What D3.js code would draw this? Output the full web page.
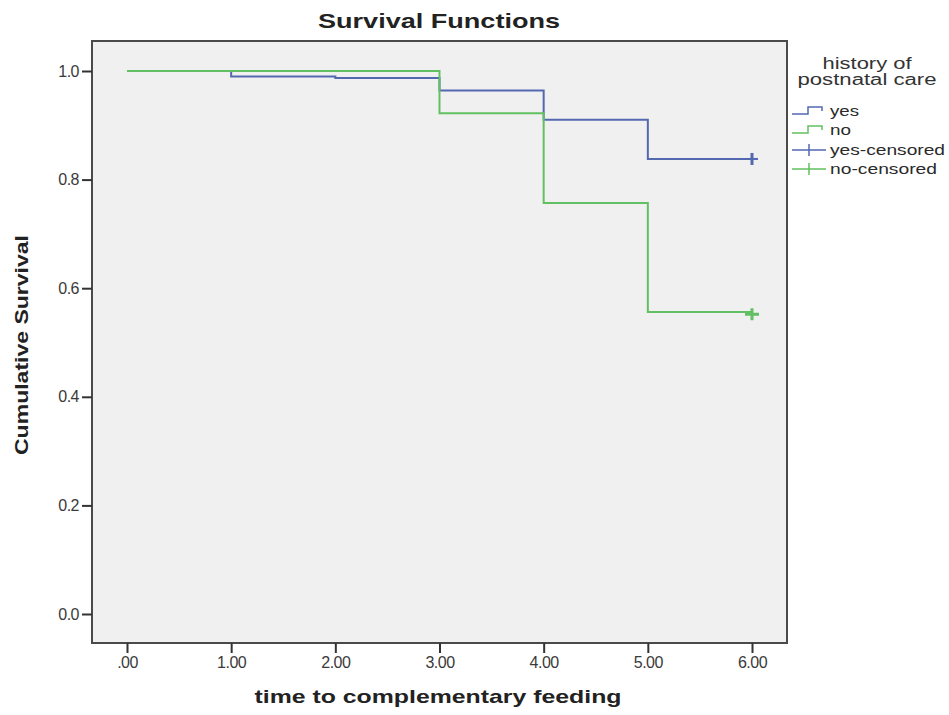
<!DOCTYPE html>
<html>
<head>
<meta charset="utf-8">
<script src="https://cdn.jsdelivr.net/npm/d3@7"></script>
<style>
  html, body { margin: 0; padding: 0; background: #ffffff; }
  svg { display: block; font-family: "Liberation Sans", Arial, sans-serif; }
</style>
</head>
<body>
<svg id="chart" width="949" height="715"></svg>
<script>
// ---- data ----
const yesTimes = [0, 1, 2, 3, 4, 5, 6];
const yesSurv  = [1.0, 0.990, 0.987, 0.964, 0.910, 0.838, 0.838];
const noTimes  = [0, 3, 4, 5, 6];
const noSurv   = [1.0, 0.922, 0.757, 0.556, 0.556];
const censorYes = [{t: 6, s: 0.838}];
const censorNo  = [{t: 6, s: 0.552}];
const xTicks = [0, 1, 2, 3, 4, 5, 6];
const xTickLabels = [".00", "1.00", "2.00", "3.00", "4.00", "5.00", "6.00"];
const yTicks = [0, 0.2, 0.4, 0.6, 0.8, 1.0];
const yTickLabels = ["0.0", "0.2", "0.4", "0.6", "0.8", "1.0"];
const legendTitle = ["history of", "postnatal care"];
const legendItems = ["yes", "no", "yes-censored", "no-censored"];

// ---- style ----
const blue = "#5468b0", green = "#62c062";
const frame = {left: 92, right: 787, top: 41, bottom: 643};

const svg = d3.select("#chart");
const x = d3.scaleLinear().domain([0, 6]).range([127, 752]);
const y = d3.scaleLinear().domain([0, 1]).range([614, 71]);

// plot background
svg.append("rect")
  .attr("x", frame.left).attr("y", frame.top)
  .attr("width", frame.right - frame.left).attr("height", frame.bottom - frame.top)
  .attr("fill", "#f0f0f0").attr("stroke", "#4a4a4a").attr("stroke-width", 2);

// axes
const xAxis = d3.axisBottom(x).tickValues(xTicks)
  .tickFormat((d, i) => xTickLabels[i]).tickSize(10).tickPadding(4).tickSizeOuter(0);
const gx = svg.append("g").attr("transform", `translate(0,${frame.bottom})`).call(xAxis);
gx.select(".domain").remove();
gx.selectAll("line").attr("stroke", "#333").attr("stroke-width", 2);
gx.selectAll("text").attr("fill", "#3a3a3a").attr("font-size", 16)
  .attr("letter-spacing", "-0.5px");

const yAxis = d3.axisLeft(y).tickValues(yTicks)
  .tickFormat((d, i) => yTickLabels[i]).tickSize(10).tickPadding(3).tickSizeOuter(0);
const gy = svg.append("g").attr("transform", `translate(${frame.left},0)`).call(yAxis);
gy.select(".domain").remove();
gy.selectAll("line").attr("stroke", "#333").attr("stroke-width", 2);
gy.selectAll("text").attr("fill", "#3a3a3a").attr("font-size", 16)
  .attr("letter-spacing", "-0.5px");

// survival step lines (green drawn on top, as in the reference)
const line = d3.line().x(d => x(d[0])).y(d => y(d[1])).curve(d3.curveStepAfter);
svg.append("path").datum(d3.zip(yesTimes, yesSurv)).attr("d", line)
  .attr("fill", "none").attr("stroke", blue).attr("stroke-width", 2);
svg.append("path").datum(d3.zip(noTimes, noSurv)).attr("d", line)
  .attr("fill", "none").attr("stroke", green).attr("stroke-width", 2);

// censor marks
svg.selectAll(".cy").data(censorYes).enter().append("line")
  .attr("x1", d => x(d.t)).attr("x2", d => x(d.t))
  .attr("y1", d => y(d.s) - 6).attr("y2", d => y(d.s) + 6)
  .attr("stroke", blue).attr("stroke-width", 3);
svg.selectAll(".cyh").data(censorYes).enter().append("line")
  .attr("x1", d => x(d.t) - 6).attr("x2", d => x(d.t) + 6)
  .attr("y1", d => y(d.s)).attr("y2", d => y(d.s))
  .attr("stroke", blue).attr("stroke-width", 2);
svg.selectAll(".cn").data(censorNo).enter().append("line")
  .attr("x1", d => x(d.t)).attr("x2", d => x(d.t))
  .attr("y1", d => y(d.s) - 6).attr("y2", d => y(d.s) + 6)
  .attr("stroke", green).attr("stroke-width", 3);
svg.selectAll(".cnh").data(censorNo).enter().append("line")
  .attr("x1", d => x(d.t) - 7).attr("x2", d => x(d.t) + 7)
  .attr("y1", d => y(d.s)).attr("y2", d => y(d.s))
  .attr("stroke", green).attr("stroke-width", 3);

// title and axis labels
svg.append("text").attr("x", 439).attr("y", 28).attr("text-anchor", "middle")
  .attr("font-size", 21).attr("font-weight", "bold").attr("fill", "#222")
  .attr("textLength", 242).attr("lengthAdjust", "spacingAndGlyphs")
  .text("Survival Functions");
svg.append("text").attr("x", 438).attr("y", 703).attr("text-anchor", "middle")
  .attr("font-size", 19).attr("font-weight", "bold").attr("fill", "#222")
  .attr("textLength", 367).attr("lengthAdjust", "spacingAndGlyphs")
  .text("time to complementary feeding");
svg.append("text").attr("transform", "translate(28,345) rotate(-90)")
  .attr("text-anchor", "middle")
  .attr("font-size", 19).attr("font-weight", "bold").attr("fill", "#222")
  .attr("textLength", 220).attr("lengthAdjust", "spacingAndGlyphs")
  .text("Cumulative Survival");

// legend
const lg = svg.append("g");
lg.selectAll(".lt").data(legendTitle).enter().append("text")
  .attr("x", 867).attr("y", (d, i) => 69 + i * 16).attr("text-anchor", "middle")
  .attr("font-size", 16).attr("fill", "#333")
  .attr("textLength", (d, i) => i === 0 ? 89 : 139).attr("lengthAdjust", "spacingAndGlyphs")
  .text(d => d);
const itemY = [111, 130, 150, 169];
const itemColor = [blue, green, blue, green];
const itemLen = [29, 21, 115, 107];
lg.selectAll(".li").data(legendItems).enter().append("text")
  .attr("x", 830).attr("y", (d, i) => itemY[i] + 5)
  .attr("font-size", 15).attr("fill", "#2a2a2a")
  .attr("textLength", (d, i) => itemLen[i]).attr("lengthAdjust", "spacingAndGlyphs")
  .text(d => d);
// step glyphs
legendItems.forEach((d, i) => {
  const cy = itemY[i];
  if (i < 2) {
    lg.append("path")
      .attr("d", `M792,${cy + 3} H808 V${cy - 4} H822 V${cy}`)
      .attr("fill", "none").attr("stroke", itemColor[i]).attr("stroke-width", 1.5);
  } else {
    lg.append("path")
      .attr("d", `M792,${cy} H826 M809,${cy - 6} V${cy + 6}`)
      .attr("fill", "none").attr("stroke", itemColor[i]).attr("stroke-width", 1.5);
  }
});
</script>
</body>
</html>
